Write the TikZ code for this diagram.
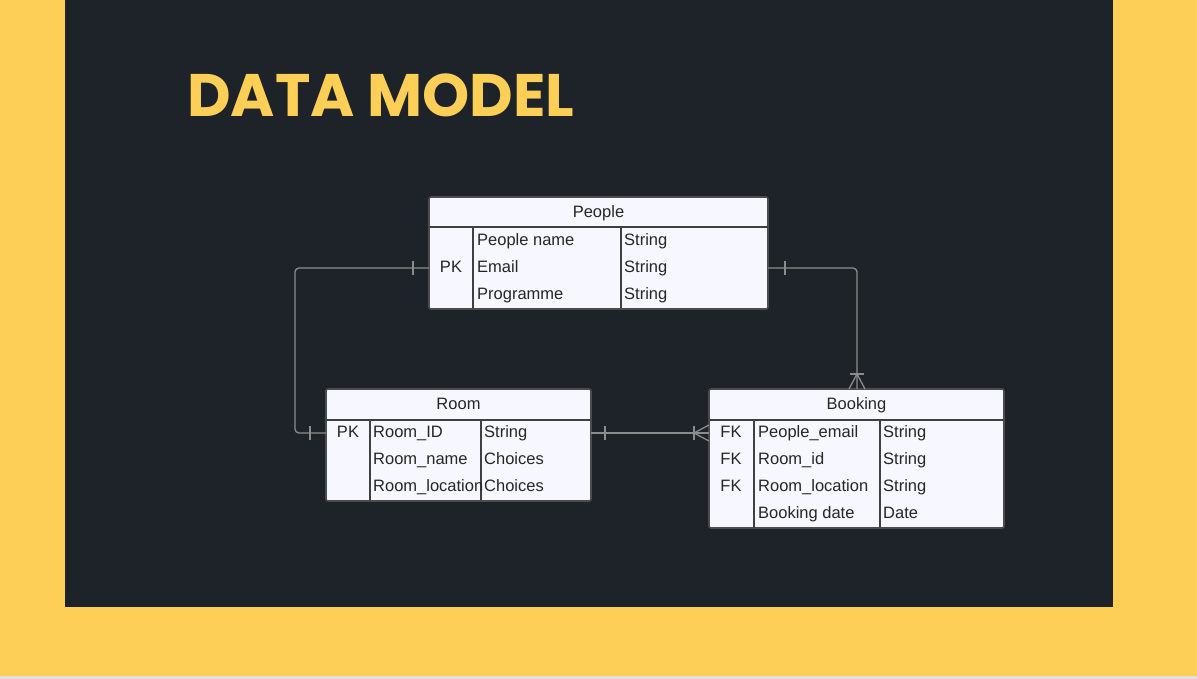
\documentclass[tikz,border=0pt]{standalone}
\usepackage{fontspec}
\setmainfont{Liberation Sans}
\newfontfamily\titlefont{Poppins}
\begin{document}
\begin{tikzpicture}[x=1pt,y=-1pt,
  tbl/.style={draw=black!70,fill=white!97!blue,line width=1.6pt,rounded corners=2pt},
  sep/.style={draw=black!75,line width=1.3pt},
  txt/.style={anchor=west,font=\fontsize{16.5}{16.5}\selectfont,text=black!85,inner sep=0pt,text height=14pt,text depth=1.5pt},
  ctxt/.style={anchor=center,font=\fontsize{16.5}{16.5}\selectfont,text=black!85,inner sep=0pt,text height=14pt,text depth=1.5pt},
  conn/.style={draw=black!45,line width=1.3pt,rounded corners=4pt}]
\definecolor{ylw}{HTML}{FDCF57}
\definecolor{panel}{HTML}{1E2329}
\useasboundingbox (0,0) rectangle (1197,679);
\fill[ylw] (0,0) rectangle (1197,679);
\fill[black!12] (0,676) rectangle (1197,679);
\fill[panel] (65,0) rectangle (1113,607);
\node[anchor=base west,inner sep=0pt,text=ylw,font=\titlefont\bfseries\fontsize{60}{60}\selectfont] (title) at (187,117) {DATA MODEL};
% People
\draw[tbl] (429,197) rectangle (768,309);
\coordinate (pL) at (429,268); \coordinate (pR) at (768,268);
\draw[sep] (429,227)--(768,227) (473,227)--(473,309) (621,227)--(621,309);
\node[ctxt] (pt) at (598.5,211) {People};
\node[ctxt] (p0) at (451,266) {PK};
\node[txt] (p1) at (477,239) {People name}; \node[txt] (p1t) at (624,239) {String};
\node[txt] (p2) at (477,266) {Email}; \node[txt] (p2t) at (624,266) {String};
\node[txt] (p3) at (477,293) {Programme}; \node[txt] (p3t) at (624,293) {String};
% Room
\draw[tbl] (326,389) rectangle (591,501);
\coordinate (rL) at (326,433); \coordinate (rR) at (591,433);
\draw[sep] (326,420)--(591,420) (370,420)--(370,501) (481,420)--(481,501);
\node[ctxt] (rt) at (458.5,403) {Room};
\node[ctxt] (r0) at (348,431) {PK};
\node[txt] (r1) at (373,431) {Room\_ID}; \node[txt] (r1t) at (484,431) {String};
\node[txt] (r2) at (373,458) {Room\_name}; \node[txt] (r2t) at (484,458) {Choices};
\node[txt] (r3) at (373,485) {Room\_location}; \node[txt] (r3t) at (484,485) {Choices};
% Booking
\draw[tbl] (709,389) rectangle (1004,528);
\coordinate (bL) at (709,433); \coordinate (bT) at (857,389);
\draw[sep] (709,420)--(1004,420) (754,420)--(754,528) (880,420)--(880,528);
\node[ctxt] (bt) at (856.5,403) {Booking};
\node[ctxt] (b0a) at (731,431) {FK}; \node[ctxt] (b0b) at (731,458) {FK}; \node[ctxt] (b0c) at (731,485) {FK};
\node[txt] (b1) at (758,431) {People\_email}; \node[txt] (b1t) at (883,431) {String};
\node[txt] (b2) at (758,458) {Room\_id}; \node[txt] (b2t) at (883,458) {String};
\node[txt] (b3) at (758,485) {Room\_location}; \node[txt] (b3t) at (883,485) {String};
\node[txt] (b4) at (758,512) {Booking date}; \node[txt] (b4t) at (883,512) {Date};
% connectors
\draw[conn] (pL) -- (295,268) -- (295,433) -- (rL);
\draw[conn] (pR) -- (857,268) -- (bT);
\draw[conn] (rR) -- (bL);
\begin{scope}[draw=black!45,line width=1.3pt]
\draw (413,261)--(413,275);
\draw (310,426)--(310,440);
\draw (785,261)--(785,275);
\draw (605,426)--(605,440);
\draw (850,374)--(864,374);
\draw (857,374)--(849,389) (857,374)--(865,389);
\draw (694,426)--(694,440);
\draw (694,433)--(709,425) (694,433)--(709,441);
\end{scope}
\end{tikzpicture}
\end{document}
